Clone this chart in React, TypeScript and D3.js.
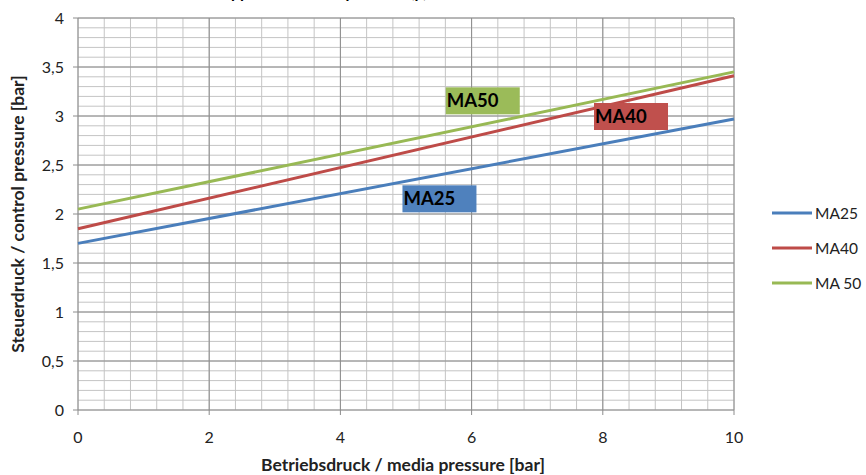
import React from "react";
import * as d3 from "d3";

const xValues = [0, 10];
const seriesNames = ["MA25", "MA40", "MA 50"];
const ma25 = [1.7, 2.97];
const ma40 = [1.85, 3.41];
const ma50 = [2.05, 3.45];
const xTicks = [0, 2, 4, 6, 8, 10];
const yTicks = [0, 0.5, 1, 1.5, 2, 2.5, 3, 3.5, 4];
const labelTexts = ["MA25", "MA40", "MA50"];
const labelPos = [
  [5.51, 2.16],
  [8.43, 3.0],
  [6.17, 3.16],
];

const colors = ["#4A7EBB", "#BE4B48", "#98B954"];
const labelColors = ["#4F81BD", "#C0504D", "#9BBB59"];

export default function App() {
  const W = 866;
  const H = 475;
  const left = 78;
  const right = 734;
  const top = 18;
  const bottom = 410;
  const x = d3.scaleLinear().domain([0, 10]).range([left, right]);
  const y = d3.scaleLinear().domain([0, 4]).range([bottom, top]);
  const series = [ma25, ma40, ma50];
  const line = d3
    .line<number>()
    .x((_, i) => x(xValues[i]))
    .y((d) => y(d));

  const minorX = d3.range(0, 10.0001, 0.4).map((v) => +v.toFixed(2));
  const minorY = d3.range(0, 4.0001, 0.1).map((v) => +v.toFixed(2));
  const font = "Lato, 'Open Sans', sans-serif";
  const fmt = (v: number) => String(v).replace(".", ",");

  return (
    <svg
      width={W}
      height={H}
      style={{ position: "absolute", left: 0, top: 0, background: "#fff" }}
      fontFamily={font}
    >
      <text x={280} y={-2} fontSize={16} fontWeight="bold" textAnchor="middle" fill="#000">
        Steuerdruck approx. / control pressure (p)
      </text>
      {minorY.map((v) => (
        <line key={"my" + v} x1={left} x2={right} y1={y(v)} y2={y(v)} stroke="#c4c4c4" strokeWidth={1} />
      ))}
      {minorX.map((v) => (
        <line key={"mx" + v} x1={x(v)} x2={x(v)} y1={top} y2={bottom} stroke="#c4c4c4" strokeWidth={1} />
      ))}
      {yTicks.map((v) => (
        <line key={"My" + v} x1={left - 5} x2={right} y1={y(v)} y2={y(v)} stroke="#8c8c8c" strokeWidth={1} />
      ))}
      {xTicks.map((v) => (
        <line key={"Mx" + v} x1={x(v)} x2={x(v)} y1={top} y2={bottom + 5} stroke="#8c8c8c" strokeWidth={1} />
      ))}
      {yTicks.map((v) => (
        <text key={"ty" + v} x={left - 14} y={y(v) + 5.5} fontSize={16} textAnchor="end" fill="#222">
          {fmt(v)}
        </text>
      ))}
      {xTicks.map((v) => (
        <text key={"tx" + v} x={x(v)} y={443} fontSize={16} textAnchor="middle" fill="#222">
          {fmt(v)}
        </text>
      ))}
      {series.map((s, i) => (
        <path key={"s" + i} d={line(s) || ""} fill="none" stroke={colors[i]} strokeWidth={3} />
      ))}
      {labelTexts.map((t, i) => {
        const cx = x(labelPos[i][0]);
        const cy = y(labelPos[i][1]);
        return (
          <g key={"l" + i}>
            <rect x={cx - 37} y={cy - 13} width={74} height={27} fill={labelColors[i]} />
            <text x={cx - 36} y={cy + 7} fontSize={18.5} fontWeight="bold" fill="#000">
              {t}
            </text>
          </g>
        );
      })}
      <text
        transform={`translate(24,${(top + bottom) / 2}) rotate(-90)`}
        fontSize={17.5}
        fontWeight="bold"
        textAnchor="middle"
        fill="#222"
      >
        Steuerdruck  / control pressure [bar]
      </text>
      <text x={403} y={471} fontSize={17.5} fontWeight="bold" textAnchor="middle" fill="#222">
        Betriebsdruck / media pressure [bar]
      </text>
      {seriesNames.map((n, i) => {
        const ly = 213 + i * 35;
        return (
          <g key={"lg" + i}>
            <line x1={772} x2={812} y1={ly} y2={ly} stroke={colors[i]} strokeWidth={3} />
            <text x={815} y={ly + 5.5} fontSize={15.5} fill="#222">
              {n}
            </text>
          </g>
        );
      })}
    </svg>
  );
}
